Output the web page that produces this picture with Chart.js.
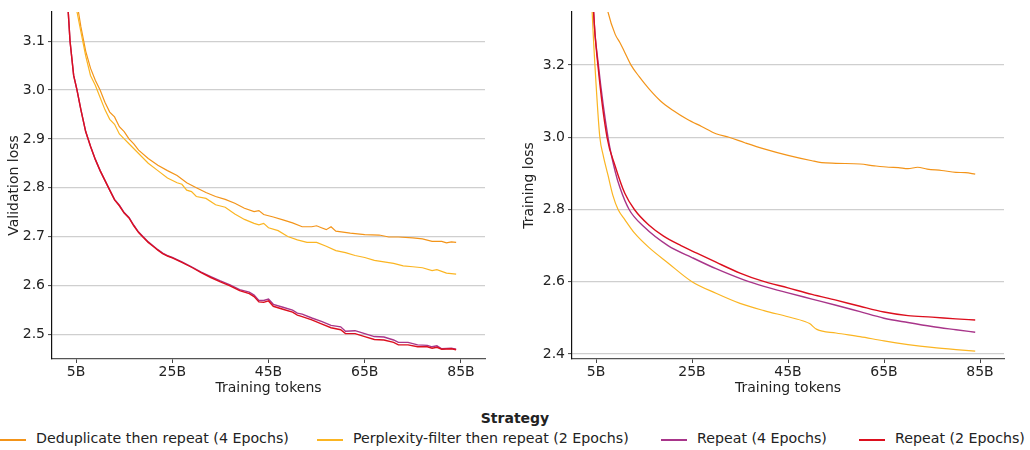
<!DOCTYPE html>
<html lang="en">
<head>
<meta charset="UTF-8">
<title>Validation and training loss by strategy</title>
<script src="https://cdn.jsdelivr.net/npm/chart.js"></script>
<style>
    body {
        margin: 0;
        background: #ffffff;
        font-family: 'DejaVu Sans', sans-serif;
        color: #222;
    }
    .wrap { position: relative; width: 1030px; height: 450px; overflow: hidden; }
    .panel { position: absolute; top: 0; height: 400px; }
    #leftBox { left: 0; width: 500px; }
    #rightBox { left: 515px; width: 515px; }
    .legend-title {
        position: absolute; top: 410px; left: 0; width: 1030px;
        text-align: center; font-weight: bold; font-size: 14px;
    }
    .item { position: absolute; top: 430px; font-size: 14.2px; white-space: nowrap; }
    .item span.sw { position: absolute; top: 9px; left: 0; width: 26px; height: 1.5px; }
</style>
</head>
<body>
<div class="wrap">
    <div class="panel" id="leftBox"><canvas id="valChart"></canvas></div>
    <div class="panel" id="rightBox"><canvas id="trainChart"></canvas></div>
    <div class="legend-title">Strategy</div>
    <div id="legend"></div>
</div>

<script>
// series names and colours
const seriesNames = ['Deduplicate then repeat (4 Epochs)', 'Perplexity-filter then repeat (2 Epochs)', 'Repeat (4 Epochs)', 'Repeat (2 Epochs)'];
const seriesColors = ['#f39419', '#fbb522', '#a8358a', '#dc0f1e'];

// axis ticks
const xTicks = [5, 25, 45, 65, 85];
const valYTicks = [2.5, 2.6, 2.7, 2.8, 2.9, 3.0, 3.1];
const trainYTicks = [2.4, 2.6, 2.8, 3.0, 3.2];

// validation loss (tokens in B)
const valDedupX = [4, 5.5, 6, 7, 8, 9, 10, 11, 12, 13, 14, 15, 16, 17, 18, 20, 22, 24, 26, 28, 30, 32, 34, 36, 38, 40, 42, 43, 44, 46, 48, 50, 52, 54, 55, 56, 57, 58, 59, 62, 65, 68, 70, 72, 75, 77, 79, 81, 82, 83, 84];
const valDedupY = [3.22, 3.16, 3.13, 3.08, 3.045, 3.02, 3.0, 2.975, 2.955, 2.945, 2.925, 2.915, 2.90, 2.89, 2.877, 2.86, 2.846, 2.835, 2.825, 2.81, 2.80, 2.79, 2.782, 2.776, 2.768, 2.758, 2.751, 2.753, 2.745, 2.74, 2.734, 2.728, 2.72, 2.72, 2.722, 2.718, 2.714, 2.72, 2.711, 2.707, 2.704, 2.703, 2.699, 2.699, 2.697, 2.695, 2.69, 2.69, 2.687, 2.689, 2.688];

const valPplX = [4, 5.2, 6, 7, 8, 9, 10, 11, 12, 13, 14, 15, 16, 18, 20, 22, 24, 26, 27, 28, 29, 30, 32, 34, 36, 38, 40, 42, 43, 44, 45, 47, 49, 51, 53, 55, 57, 59, 61, 63, 65, 67, 69, 71, 73, 75, 77, 79, 80, 82, 84];
const valPplY = [3.22, 3.16, 3.12, 3.07, 3.03, 3.01, 2.985, 2.96, 2.94, 2.93, 2.91, 2.90, 2.89, 2.87, 2.85, 2.835, 2.82, 2.81, 2.807, 2.795, 2.792, 2.782, 2.778, 2.765, 2.76, 2.746, 2.735, 2.727, 2.724, 2.727, 2.718, 2.712, 2.70, 2.693, 2.688, 2.688, 2.68, 2.671, 2.667, 2.661, 2.657, 2.651, 2.648, 2.645, 2.64, 2.638, 2.636, 2.63, 2.632, 2.625, 2.623];

const valRep2X = [2, 3, 3.75, 4.5, 5.2, 6, 7, 8, 9, 10, 11, 12, 13, 14, 15, 16, 17, 18, 19, 20, 21, 22, 23, 24, 25, 27, 29, 31, 33, 35, 37, 39, 41, 42, 43, 44, 45, 46, 48, 50, 51, 52, 54, 56, 58, 60, 61, 63, 65, 67, 69, 71, 72, 74, 76, 78, 79, 80, 81, 83, 84];
const valRep2Y = [3.40, 3.22, 3.10, 3.03, 3.00, 2.96, 2.915, 2.885, 2.858, 2.835, 2.815, 2.795, 2.775, 2.763, 2.748, 2.738, 2.722, 2.708, 2.698, 2.688, 2.68, 2.672, 2.665, 2.66, 2.656, 2.647, 2.637, 2.626, 2.616, 2.607, 2.599, 2.589, 2.583, 2.577, 2.566, 2.565, 2.568, 2.557, 2.551, 2.545, 2.539, 2.536, 2.529, 2.521, 2.513, 2.509, 2.501, 2.501, 2.495, 2.489, 2.488, 2.483, 2.478, 2.478, 2.474, 2.474, 2.471, 2.473, 2.469, 2.470, 2.468];
const valRep4X = valRep2X;
const valRep4Y = [3.40, 3.22, 3.10, 3.03, 3.00, 2.96, 2.915, 2.885, 2.858, 2.835, 2.815, 2.795, 2.776, 2.764, 2.749, 2.739, 2.723, 2.709, 2.699, 2.689, 2.681, 2.673, 2.666, 2.661, 2.657, 2.648, 2.638, 2.627, 2.618, 2.609, 2.601, 2.591, 2.586, 2.580, 2.569, 2.569, 2.572, 2.561, 2.555, 2.549, 2.543, 2.541, 2.533, 2.526, 2.518, 2.515, 2.506, 2.507, 2.501, 2.495, 2.494, 2.488, 2.483, 2.483, 2.478, 2.477, 2.474, 2.476, 2.470, 2.471, 2.469];

// training loss
const trDedupX = [6, 7.5, 9, 10, 11, 12.3, 14, 16, 18.5, 21, 24, 27, 30, 32.7, 36, 40, 45, 50, 52, 55, 60, 63, 66, 68, 70, 72, 74, 77, 80, 82, 84];
const trDedupY = [3.45, 3.347, 3.285, 3.262, 3.235, 3.20, 3.168, 3.135, 3.10, 3.075, 3.05, 3.03, 3.01, 3.00, 2.985, 2.968, 2.95, 2.935, 2.93, 2.928, 2.926, 2.921, 2.917, 2.916, 2.913, 2.917, 2.912, 2.908, 2.903, 2.902, 2.898];

const trPplX = [3.5, 4.2, 5, 5.8, 6.5, 7.5, 8.5, 9.6, 11, 13, 16, 20, 25, 30, 35, 40, 45, 48.5, 49.5, 51, 55, 60, 65, 70, 75, 80, 84];
const trPplY = [3.6, 3.347, 3.15, 3.0, 2.95, 2.895, 2.84, 2.80, 2.772, 2.735, 2.695, 2.652, 2.60, 2.568, 2.54, 2.52, 2.503, 2.49, 2.484, 2.468, 2.458, 2.448, 2.436, 2.426, 2.418, 2.412, 2.408];

const trRep4X = [3.6, 4.5, 5.5, 7.5, 9, 10, 11.9, 15, 20, 25, 30, 35.8, 40, 45, 50, 55, 60, 65, 70, 75, 80, 84];
const trRep4Y = [3.7, 3.347, 3.2, 3.0, 2.905, 2.86, 2.80, 2.752, 2.70, 2.667, 2.636, 2.605, 2.587, 2.569, 2.552, 2.535, 2.517, 2.499, 2.487, 2.476, 2.467, 2.46];

const trRep2X = [3.6, 4.5, 5.4, 7.3, 9, 11, 13, 16, 19, 22.7, 26, 30, 35, 39.4, 45, 50, 55, 60, 65, 70, 75, 80, 84];
const trRep2Y = [3.7, 3.347, 3.2, 3.0, 2.92, 2.845, 2.80, 2.757, 2.727, 2.70, 2.679, 2.654, 2.624, 2.603, 2.583, 2.565, 2.549, 2.532, 2.516, 2.506, 2.502, 2.497, 2.494];

function pts(xs, ys) {
    return xs.map((x, i) => ({ x: x, y: ys[i] }));
}

function makeSets(list, tension) {
    return list.map((s, i) => ({
        label: seriesNames[i],
        data: pts(s[0], s[1]),
        borderColor: seriesColors[i],
        borderWidth: i >= 2 ? 1.4 : 1.2,
        pointRadius: 0,
        fill: false,
        tension: tension,
        cubicInterpolationMode: tension > 0 ? 'monotone' : 'default',
        order: 3 - i
    }));
}

const tickFont = { family: 'DejaVu Sans', size: 14 };

function makeOptions(yMin, yMax, yTicks, yTitle, yWidth, padRight) {
    return {
        responsive: false,
        animation: false,
        layout: { padding: { left: 0, top: 12, right: padRight, bottom: 0 } },
        plugins: { legend: { display: false }, tooltip: { enabled: false } },
        scales: {
            x: {
                type: 'linear',
                min: 0,
                max: 90,
                afterBuildTicks: (scale) => { scale.ticks = xTicks.map(v => ({ value: v })); },
                afterFit: (scale) => { scale.height = 41; },
                ticks: { font: tickFont, color: '#222', padding: 1, maxRotation: 0, callback: (v) => v + 'B' },
                grid: { drawOnChartArea: false, tickLength: 4, tickColor: '#444', tickWidth: 1 },
                border: { color: '#555', width: 1.3 },
                title: { display: true, text: 'Training tokens', font: tickFont, color: '#222', padding: { top: 0, bottom: 3 } }
            },
            y: {
                min: yMin,
                max: yMax,
                afterBuildTicks: (scale) => { scale.ticks = yTicks.map(v => ({ value: v })); },
                afterFit: (scale) => { scale.width = yWidth; },
                ticks: { font: tickFont, color: '#222', padding: 3, callback: (v) => v.toFixed(1) },
                grid: { color: '#cfcfcf', lineWidth: 1.2, tickLength: 4, tickColor: '#444', tickWidth: 1 },
                border: { color: '#111', width: 1.2 },
                title: { display: true, text: yTitle, font: tickFont, color: '#222', padding: { top: 6, bottom: 0 } }
            }
        }
    };
}

const valCanvas = document.getElementById('valChart');
valCanvas.width = 500; valCanvas.height = 400;
new Chart(valCanvas.getContext('2d'), {
    type: 'line',
    data: {
        datasets: makeSets([
            [valDedupX, valDedupY],
            [valPplX, valPplY],
            [valRep4X, valRep4Y],
            [valRep2X, valRep2Y]
        ], 0)
    },
    options: makeOptions(2.449, 3.16, valYTicks, 'Validation loss', 52, 15)
});

const trainCanvas = document.getElementById('trainChart');
trainCanvas.width = 515; trainCanvas.height = 400;
new Chart(trainCanvas.getContext('2d'), {
    type: 'line',
    data: {
        datasets: makeSets([
            [trDedupX, trDedupY],
            [trPplX, trPplY],
            [trRep4X, trRep4Y],
            [trRep2X, trRep2Y]
        ], 0.4)
    },
    options: makeOptions(2.386, 3.347, trainYTicks, 'Training loss', 57, 26)
});

// legend at the bottom
const legendX = [0, 317, 661, 859];
const legend = document.getElementById('legend');
seriesNames.forEach((name, i) => {
    const div = document.createElement('div');
    div.className = 'item';
    div.style.left = legendX[i] + 'px';
    div.style.paddingLeft = '36px';
    div.innerHTML = '<span class="sw" style="background:' + seriesColors[i] + '"></span>' + name;
    legend.appendChild(div);
});
</script>
</body>
</html>
